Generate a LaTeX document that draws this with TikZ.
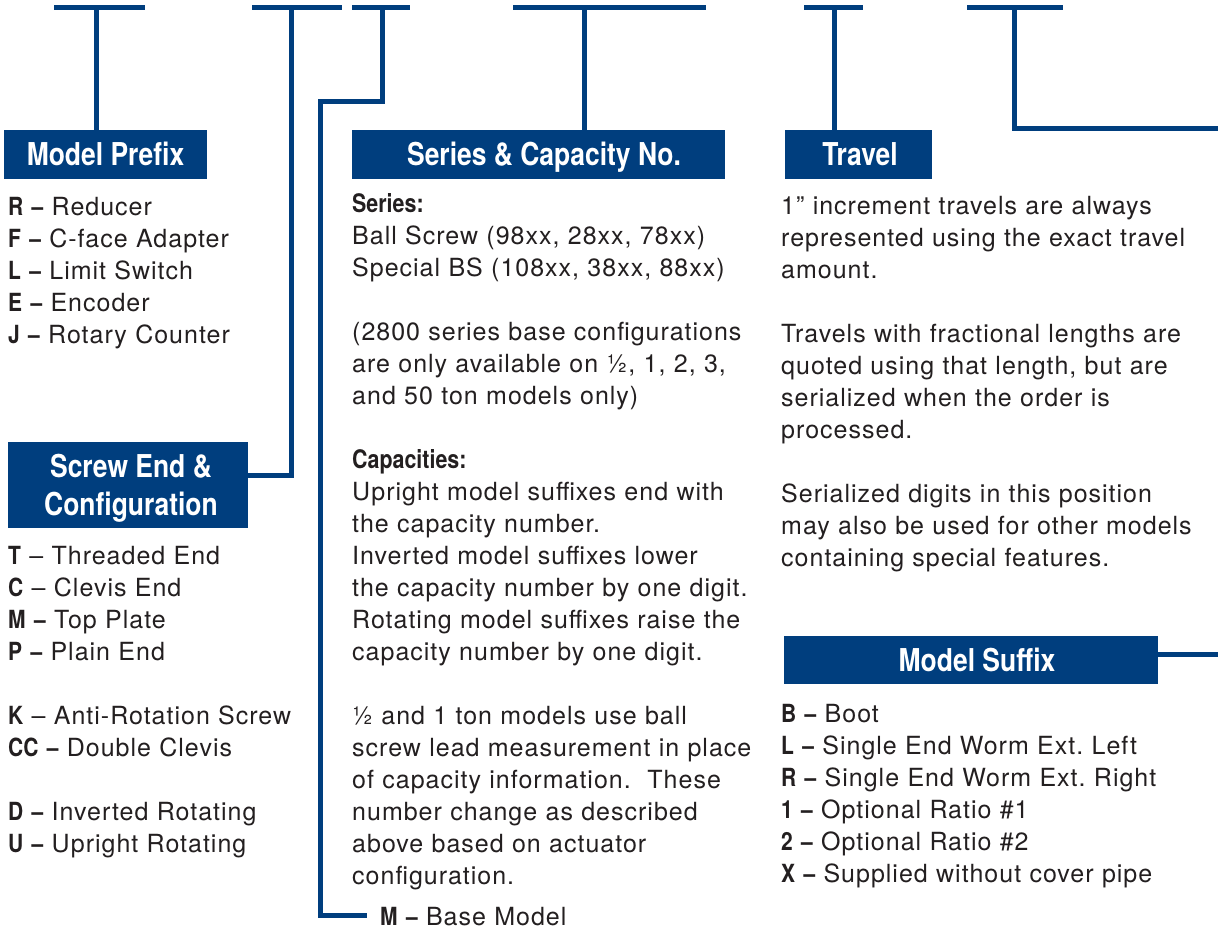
\documentclass[tikz,border=0pt]{standalone}
\usepackage{fontspec}
\setmainfont{TeX Gyre Heros}[LetterSpace=4]
\newfontfamily\cbfam{TeX Gyre Heros}[FakeStretch=0.84]
\newcommand\cb{\cbfam\bfseries}
\newcommand\hdf{\cbfam\bfseries\fontsize{31.5}{38.5}\selectfont}
\newcommand\itm[2]{{\cb #1~–}~#2}
\newcommand\itmr[2]{{\cb #1}~–~#2}
\definecolor{hdblue}{RGB}{0,62,126}
\definecolor{txt}{RGB}{35,31,32}
\frenchspacing
\begin{document}
\begin{tikzpicture}[x=1pt,y=-1pt,
  hbox/.style={fill=hdblue, text=white, inner sep=0pt, font=\hdf, align=center},
  hone/.style={hbox, text height=23pt, text depth=0pt},
  conn/.style={draw=hdblue, line width=5pt},
  body/.style={anchor=base west, inner sep=0pt, text=txt, font=\fontsize{25}{32}\selectfont\frenchspacing, text width=440pt, align=left},
  sub/.style={anchor=base west, inner sep=0pt, text=txt, font=\cb\fontsize{25.5}{32}\selectfont}]
\useasboundingbox[fill=white] (0,0) rectangle (1218,929);

% header boxes
\node[hone, minimum width=203pt, minimum height=48.5pt] (mp) at (105.5,154.3) {Model Prefix};
\node[hbox, minimum width=240pt, minimum height=86pt] (se) at (128,485) {\rule{0pt}{30pt}\hspace*{6pt}Screw End \&\\\hspace*{6pt}Configuration};
\node[hone, minimum width=373pt, minimum height=48.5pt] (sc) at (538.5,154.3) {\hspace*{11pt}Series \& Capacity No.};
\node[hone, minimum width=147pt, minimum height=48.5pt] (tr) at (858.5,154.3) {\hspace*{3pt}Travel};
\node[hone, minimum width=374pt, minimum height=48pt] (ms) at (971,660) {\hspace*{12pt}Model Suffix};

% lists
\node[body] (pl) at (8,215) {\itm{R}{Reducer}\\\itm{F}{C-face Adapter}\\\itm{L}{Limit Switch}\\\itm{E}{Encoder}\\\itm{J}{Rotary Counter}};
\node[body] (sl) at (8,564) {\itmr{T}{Threaded End}\\\itmr{C}{Clevis End}\\\itm{M}{Top Plate}\\\itm{P}{Plain End}\\[32pt]\itmr{K}{Anti-Rotation Screw}\\\itm{CC}{Double Clevis}\\[32pt]\itm{D}{Inverted Rotating}\\\itm{U}{Upright Rotating}};

\node[sub] (sh) at (352,212) {Series:};
\node[body] (sb) at (352,244) {Ball Screw (98xx, 28xx, 78xx)\\Special BS (108xx, 38xx, 88xx)\\[32pt](2800 series base configurations\\are only available on ½, 1, 2, 3,\\and 50 ton models only)};
\node[sub] (ch) at (352,468) {Capacities:};
\node[body] (cb) at (352,500) {Upright model suffixes end with\\the capacity number.\\Inverted model suffixes lower\\the capacity number by one digit.\\Rotating model suffixes raise the\\capacity number by one digit.\\[32pt]½ and 1 ton models use ball\\screw lead measurement in place\\of capacity information.\ \ These\\number change as described\\above based on actuator\\configuration.};
\node[body, text width=300pt] (bm) at (380,925) {\itm{M}{Base Model}};

\node[body] (tb) at (781,214) {1” increment travels are always\\represented using the exact travel\\amount.\\[32pt]Travels with fractional lengths are\\quoted using that length, but are\\serialized when the order is\\processed.\\[32pt]Serialized digits in this position\\may also be used for other models\\containing special features.};

\node[body] (sfl) at (781,722) {\itm{B}{Boot}\\\itm{L}{Single End Worm Ext. Left}\\\itm{R}{Single End Worm Ext. Right}\\\itm{1}{Optional Ratio \#1}\\\itm{2}{Optional Ratio \#2}\\\itm{X}{Supplied without cover pipe}};

% connectors
\coordinate (t1) at (96,7.5);
\coordinate (t2) at (291,7.5);
\coordinate (t3) at (382,7.5);
\coordinate (t4) at (584,7.5);
\coordinate (t5) at (834.5,7.5);
\coordinate (t6) at (1014,7.5);
\coordinate (e6) at (1218,128.5);
\coordinate (e7) at (1218,654.5);
\coordinate (k3) at (320,101);

\draw[conn] (54,7.5) -- (145,7.5);
\draw[conn] (252,7.5) -- (342,7.5);
\draw[conn] (352,7.5) -- (410,7.5);
\draw[conn] (513,7.5) -- (706,7.5);
\draw[conn] (804,7.5) -- (863,7.5);
\draw[conn] (967,7.5) -- (1063,7.5);

\draw[conn] (t1) -- (t1 |- mp.north);
\draw[conn] (t2) |- ([yshift=10pt]se.east);
\draw[conn] (t3) |- (k3) |- ([xshift=-13pt,yshift=1pt]bm.west);
\draw[conn] (t4) -- (t4 |- sc.north);
\draw[conn] (t5) -- (t5 |- tr.north);
\draw[conn] (t6) |- (e6);
\draw[conn] (e7 -| ms.east) -- (e7);
\end{tikzpicture}
\end{document}
